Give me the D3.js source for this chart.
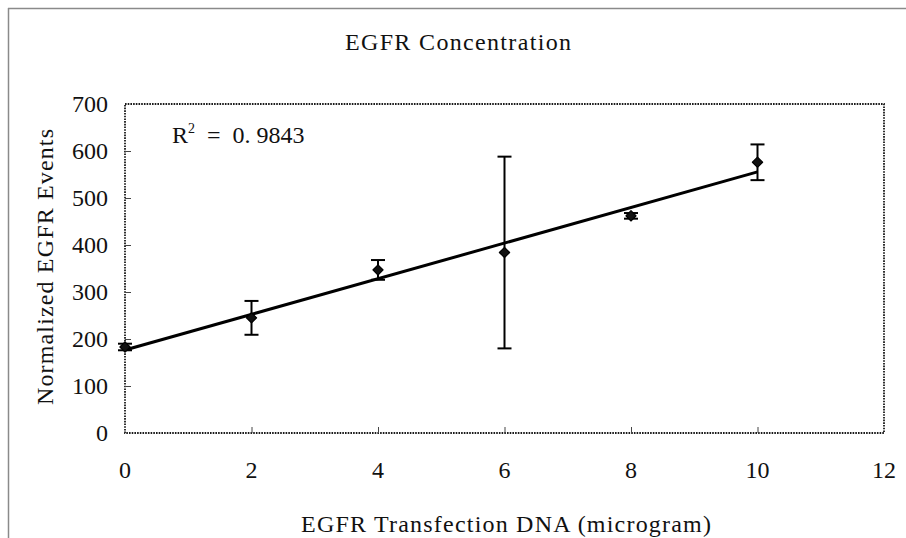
<!DOCTYPE html>
<html>
<head>
<meta charset="utf-8">
<script src="https://cdn.jsdelivr.net/npm/d3@7"></script>
<style>
  html, body { margin: 0; padding: 0; background: #fff; }
  svg { display: block; }
  text { font-family: "Liberation Serif", "DejaVu Serif", serif; fill: #111; }
</style>
</head>
<body>
<svg id="chart" width="906" height="538"></svg>
<script>
// Transfected DNA amount (microgram) and normalized EGFR events
const dnaAmount = [0, 2, 4, 6, 8, 10];
const egfrEvents = [183, 245, 347, 384, 462, 576];
const errorHalf = [7, 36, 21, 204, 6, 38];
const xTicks = [0, 2, 4, 6, 8, 10, 12];
const yTicks = [0, 100, 200, 300, 400, 500, 600, 700];
const rSquaredLabel = "0.9843";

const svg = d3.select("#chart");
const W = 906, H = 538;
const plot = { left: 125, right: 884, top: 104, bottom: 433 };
const FS = 24;

const x = d3.scaleLinear().domain([0, 12]).range([plot.left, plot.right]);
const y = d3.scaleLinear().domain([0, 700]).range([plot.bottom, plot.top]);

// outer chart frame (top and left edges visible)
svg.append("line").attr("x1", 8).attr("y1", 8.5).attr("x2", W).attr("y2", 8.5)
  .attr("stroke", "#8a8a8a").attr("stroke-width", 1.5);
svg.append("line").attr("x1", 8.5).attr("y1", 8).attr("x2", 8.5).attr("y2", H)
  .attr("stroke", "#8a8a8a").attr("stroke-width", 1.5);

// dotted plot-area border
svg.append("rect")
  .attr("x", plot.left).attr("y", plot.top)
  .attr("width", plot.right - plot.left).attr("height", plot.bottom - plot.top)
  .attr("fill", "none").attr("stroke", "#1a1a1a").attr("stroke-width", 1.8)
  .attr("stroke-dasharray", "1.6,1.1");

// y axis: inward ticks, labels to the left
const yAxis = d3.axisRight(y).tickValues(yTicks).tickSize(6).tickFormat("");
const gy = svg.append("g").attr("transform", `translate(${plot.left},0)`).call(yAxis);
gy.select(".domain").remove();
gy.selectAll(".tick line").attr("stroke", "#444").attr("stroke-width", 1)
  .filter(d => d === 0 || d === 700).remove();
svg.append("g").selectAll("text").data(yTicks).join("text")
  .attr("x", 108).attr("y", d => y(d) + 8)
  .attr("text-anchor", "end").attr("font-size", FS)
  .text(d => d);

// x axis: inward ticks, labels below
const xAxis = d3.axisTop(x).tickValues(xTicks).tickSize(6).tickFormat("");
const gx = svg.append("g").attr("transform", `translate(0,${plot.bottom})`).call(xAxis);
gx.select(".domain").remove();
gx.selectAll(".tick line").attr("stroke", "#444").attr("stroke-width", 1)
  .filter(d => d === 0 || d === 12).remove();
svg.append("g").selectAll("text").data(xTicks).join("text")
  .attr("x", d => x(d)).attr("y", 478)
  .attr("text-anchor", "middle").attr("font-size", FS)
  .text(d => d);

// least-squares trendline through the measurements
const mx = d3.mean(dnaAmount), my = d3.mean(egfrEvents);
const sxy = d3.sum(dnaAmount, (d, i) => (d - mx) * (egfrEvents[i] - my));
const sxx = d3.sum(dnaAmount, d => (d - mx) * (d - mx));
const slope = sxy / sxx, intercept = my - slope * mx;
const xMin = d3.min(dnaAmount), xMax = d3.max(dnaAmount);
svg.append("line")
  .attr("x1", x(xMin)).attr("y1", y(intercept + slope * xMin))
  .attr("x2", x(xMax)).attr("y2", y(intercept + slope * xMax))
  .attr("stroke", "#000").attr("stroke-width", 3);

// error bars
const pts = dnaAmount.map((d, i) => ({ x: d, y: egfrEvents[i], e: errorHalf[i] }));
const eb = svg.append("g").attr("stroke", "#000").attr("stroke-width", 2);
eb.selectAll("line.v").data(pts).join("line").attr("class", "v")
  .attr("x1", d => x(d.x)).attr("x2", d => x(d.x))
  .attr("y1", d => y(d.y + d.e)).attr("y2", d => y(d.y - d.e));
eb.selectAll("line.t").data(pts).join("line").attr("class", "t")
  .attr("x1", d => x(d.x) - 7).attr("x2", d => x(d.x) + 7)
  .attr("y1", d => y(d.y + d.e)).attr("y2", d => y(d.y + d.e));
eb.selectAll("line.b").data(pts).join("line").attr("class", "b")
  .attr("x1", d => x(d.x) - 7).attr("x2", d => x(d.x) + 7)
  .attr("y1", d => y(d.y - d.e)).attr("y2", d => y(d.y - d.e));

// diamond markers (squares turned 45 degrees)
const diamond = d3.symbol().type(d3.symbolSquare).size(52);
svg.append("g").selectAll("path").data(pts).join("path")
  .attr("d", diamond)
  .attr("transform", d => `translate(${x(d.x)},${y(d.y)}) rotate(45)`)
  .attr("fill", "#111").attr("stroke", "#000").attr("stroke-width", 1.2)
  .attr("stroke-linejoin", "round");

// R-squared annotation
const r2 = svg.append("text").attr("x", 172).attr("y", 143)
  .attr("font-size", FS).attr("xml:space", "preserve");
r2.append("tspan").text("R");
r2.append("tspan").attr("dy", -10).attr("font-size", 14).text("2");
r2.append("tspan").attr("dy", 10).text("  =  " + rSquaredLabel.replace(".", ". "));

// titles
svg.append("text").attr("x", 458).attr("y", 50).attr("text-anchor", "middle")
  .attr("font-size", FS).attr("textLength", 226).attr("lengthAdjust", "spacing")
  .text("EGFR Concentration");
svg.append("text").attr("x", 506).attr("y", 532).attr("text-anchor", "middle")
  .attr("font-size", FS).attr("textLength", 410).attr("lengthAdjust", "spacing")
  .text("EGFR Transfection DNA (microgram)");
svg.append("text")
  .attr("transform", "translate(53,267) rotate(-90)")
  .attr("text-anchor", "middle")
  .attr("font-size", FS).attr("textLength", 276).attr("lengthAdjust", "spacing")
  .text("Normalized EGFR Events");
</script>
</body>
</html>
